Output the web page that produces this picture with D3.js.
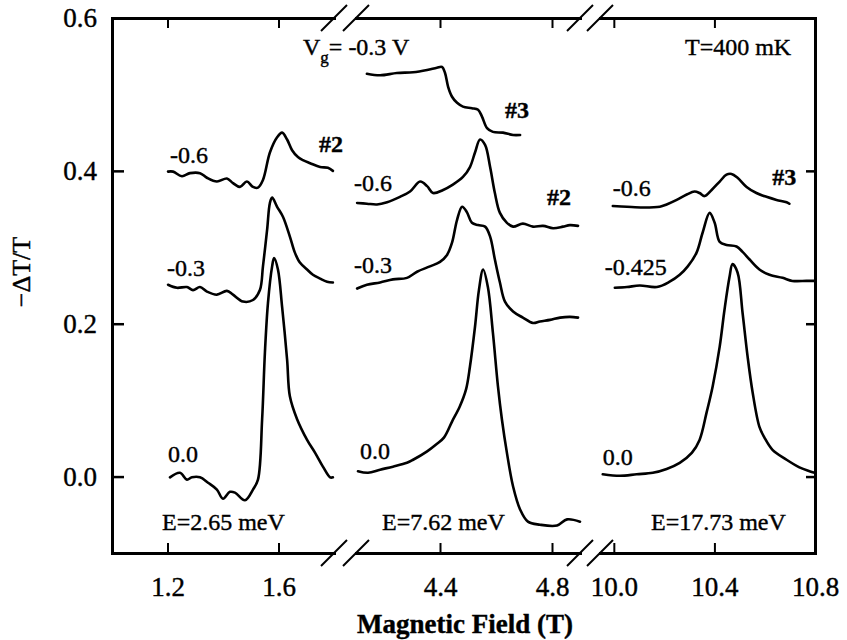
<!DOCTYPE html>
<html>
<head>
<meta charset="utf-8">
<script src="https://cdn.jsdelivr.net/npm/d3@7"></script>
<style>
  body { margin: 0; background: #fff; }
  svg { display: block; }
  text { font-family: "Liberation Serif", "Times New Roman", serif; fill: #000; stroke: #000; stroke-width: 0.4px; }
</style>
</head>
<body>
<svg id="chart" width="847" height="640"></svg>
<script>
// ---- axis data ----
const fieldDomains = [[1.0, 1.8], [4.1, 4.9], [9.945, 10.8]];
const fieldTicks = [[1.2, 1.6], [4.4, 4.8], [10.0, 10.4, 10.8]];
const signalTicks = [0.0, 0.2, 0.4, 0.6];
const signalDomain = [-0.1, 0.6];

// ---- E = 2.65 meV (low field window) ----
const b1_v00 = [1.209,1.245,1.270,1.288,1.317,1.346,1.378,1.400,1.425,1.443,1.479,1.508,1.526,1.541,1.551,1.562,1.577,1.584,1.598,1.613,1.631,1.641,1.667,1.703,1.732,1.760,1.786,1.796];
const s1_v00 = [-0.001,0.005,-0.004,-0.001,-0.001,-0.008,-0.017,-0.029,-0.020,-0.021,-0.031,-0.017,-0.004,0.075,0.162,0.227,0.275,0.286,0.271,0.222,0.153,0.105,0.075,0.048,0.031,0.013,-0.001,-0.001];

const b1_v03 = [1.202,1.234,1.270,1.292,1.317,1.342,1.378,1.414,1.436,1.472,1.508,1.533,1.544,1.559,1.569,1.577,1.595,1.616,1.641,1.659,1.677,1.703,1.724,1.750,1.775,1.796];
const s1_v03 = [0.251,0.247,0.248,0.244,0.248,0.242,0.238,0.243,0.238,0.229,0.231,0.244,0.275,0.323,0.358,0.365,0.353,0.340,0.314,0.293,0.280,0.271,0.264,0.259,0.255,0.254];

const b1_v06 = [1.202,1.220,1.252,1.281,1.317,1.342,1.378,1.414,1.436,1.461,1.486,1.508,1.526,1.544,1.569,1.595,1.613,1.631,1.649,1.670,1.688,1.714,1.750,1.778,1.796];
const s1_v06 = [0.399,0.399,0.393,0.397,0.397,0.391,0.386,0.390,0.384,0.379,0.386,0.379,0.378,0.388,0.424,0.444,0.450,0.441,0.427,0.418,0.414,0.410,0.405,0.404,0.400];

// ---- E = 7.62 meV (middle window) ----
const b2_v00 = [4.107,4.143,4.186,4.232,4.282,4.304,4.354,4.386,4.414,4.443,4.471,4.493,4.507,4.525,4.539,4.554,4.571,4.589,4.607,4.621,4.639,4.661,4.686,4.714,4.757,4.818,4.854,4.900];
const s2_v00 = [0.007,0.005,0.009,0.013,0.018,0.022,0.033,0.042,0.051,0.072,0.092,0.114,0.144,0.196,0.244,0.271,0.248,0.188,0.118,0.075,0.031,-0.013,-0.043,-0.059,-0.063,-0.064,-0.056,-0.059];

const b2_v03 = [4.104,4.139,4.186,4.232,4.282,4.318,4.364,4.400,4.425,4.443,4.461,4.479,4.496,4.514,4.536,4.561,4.579,4.596,4.614,4.632,4.661,4.696,4.732,4.757,4.793,4.829,4.864,4.893];
const s2_v03 = [0.246,0.251,0.254,0.258,0.260,0.268,0.275,0.281,0.290,0.306,0.336,0.353,0.346,0.332,0.329,0.327,0.314,0.284,0.254,0.229,0.216,0.208,0.201,0.203,0.205,0.208,0.209,0.208];

const b2_v06 = [4.104,4.139,4.175,4.211,4.257,4.293,4.329,4.354,4.375,4.411,4.446,4.482,4.507,4.525,4.543,4.561,4.579,4.596,4.614,4.639,4.661,4.696,4.732,4.768,4.804,4.839,4.864,4.893];
const s2_v06 = [0.358,0.357,0.356,0.359,0.366,0.373,0.386,0.380,0.371,0.375,0.382,0.392,0.405,0.424,0.441,0.434,0.405,0.371,0.345,0.332,0.327,0.331,0.327,0.328,0.325,0.327,0.329,0.328];

// sample #3 at Vg = -0.3 V
const b2_s3 = [4.139,4.186,4.246,4.304,4.354,4.389,4.407,4.418,4.429,4.443,4.461,4.482,4.514,4.536,4.550,4.568,4.589,4.625,4.661,4.686];
const s2_s3 = [0.527,0.525,0.528,0.529,0.532,0.535,0.536,0.528,0.510,0.497,0.489,0.484,0.482,0.480,0.471,0.456,0.451,0.450,0.447,0.447];

// ---- E = 17.73 meV (high field window) ----
const b3_v00 = [9.956,10.024,10.091,10.155,10.210,10.262,10.310,10.341,10.369,10.393,10.421,10.440,10.460,10.472,10.492,10.512,10.532,10.552,10.579,10.599,10.631,10.687,10.738,10.778,10.798];
const s3_v00 = [0.003,0.001,0.003,0.005,0.010,0.018,0.031,0.048,0.084,0.118,0.170,0.218,0.261,0.278,0.267,0.214,0.157,0.110,0.065,0.051,0.035,0.022,0.012,0.007,0.005];

const b3_v0425 = [10.004,10.052,10.103,10.171,10.222,10.262,10.294,10.329,10.353,10.381,10.401,10.421,10.448,10.488,10.512,10.540,10.579,10.619,10.671,10.710,10.766,10.798];
const s3_v0425 = [0.247,0.248,0.250,0.248,0.255,0.264,0.275,0.293,0.319,0.345,0.332,0.307,0.303,0.301,0.294,0.284,0.271,0.264,0.260,0.256,0.256,0.256];

const b3_v06 = [9.996,10.052,10.115,10.183,10.210,10.250,10.290,10.321,10.341,10.361,10.389,10.421,10.448,10.468,10.492,10.528,10.567,10.607,10.647,10.687,10.698];
const s3_v06 = [0.354,0.353,0.352,0.353,0.356,0.362,0.369,0.373,0.371,0.367,0.375,0.386,0.395,0.396,0.391,0.379,0.371,0.366,0.362,0.359,0.357];

// ---- curve labels ----
const gateLabels = ["0.0", "-0.3", "-0.6", "0.0", "-0.3", "-0.6", "", "0.0", "-0.425", "-0.6"];
const sampleTags = ["", "", "#2", "", "", "#2", "#3", "", "", "#3"];
const energyLabels = ["E=2.65 meV", "E=7.62 meV", "E=17.73 meV"];

const curves = [
  { panel: 0, b: b1_v00, s: s1_v00 },
  { panel: 0, b: b1_v03, s: s1_v03 },
  { panel: 0, b: b1_v06, s: s1_v06 },
  { panel: 1, b: b2_v00, s: s2_v00 },
  { panel: 1, b: b2_v03, s: s2_v03 },
  { panel: 1, b: b2_v06, s: s2_v06 },
  { panel: 1, b: b2_s3,  s: s2_s3 },
  { panel: 2, b: b3_v00, s: s3_v00 },
  { panel: 2, b: b3_v0425, s: s3_v0425 },
  { panel: 2, b: b3_v06, s: s3_v06 }
];

// ---- layout ----
const svg = d3.select("#chart");
const plotTop = 18, plotBottom = 553, plotLeft = 112, plotRight = 815;
const panelRanges = [[plotLeft, 334], [356, 580], [600, plotRight]];

// label placement relative to the first / last point of each trace (px)
const gateLabelOffsets = [[-2,-15],[-1,-9],[2,-9],[2,-12],[-3,-16],[-3,-12],[0,0],[0,-9],[-10,-13],[0,-10]];
const tagOffsets = [[0,0],[0,0],[-14,-19],[0,0],[0,0],[-31,-21],[-15,-17],[0,0],[0,0],[-17,-19]];

const y = d3.scaleLinear().domain(signalDomain).range([plotBottom, plotTop]);
const xs = fieldDomains.map((d, i) => d3.scaleLinear().domain(d).range(panelRanges[i]));

const frameW = 3;

// x axes: one broken segment per window, ticks pointing inward
xs.forEach((x, i) => {
  const gb = svg.append("g").attr("transform", `translate(0,${plotBottom})`)
    .call(d3.axisBottom(x).tickValues(fieldTicks[i]).tickFormat(d3.format(".1f"))
      .tickSizeInner(-10).tickSizeOuter(0).tickPadding(24));
  const gt = svg.append("g").attr("transform", `translate(0,${plotTop})`)
    .call(d3.axisTop(x).tickValues(fieldTicks[i]).tickFormat("")
      .tickSizeInner(-10).tickSizeOuter(0));
  [gb, gt].forEach(g => {
    g.select(".domain").attr("stroke-width", frameW).attr("stroke-linecap", "square");
    g.selectAll(".tick line").attr("stroke-width", 2);
  });
  gb.selectAll(".tick text").attr("font-size", 27).attr("font-family", "Liberation Serif");
});

// y axes
const gl = svg.append("g").attr("transform", `translate(${plotLeft},0)`)
  .call(d3.axisLeft(y).tickValues(signalTicks).tickFormat(d3.format(".1f"))
    .tickSizeInner(-12).tickSizeOuter(0).tickPadding(15));
gl.select(".domain").attr("stroke-width", frameW).attr("stroke-linecap", "square");
gl.selectAll(".tick line").attr("stroke-width", 2.5);
gl.selectAll(".tick text").attr("font-size", 27).attr("font-family", "Liberation Serif");

const gr = svg.append("g").attr("transform", `translate(${plotRight},0)`)
  .call(d3.axisRight(y).tickValues(signalTicks).tickFormat("")
    .tickSizeInner(-9).tickSizeOuter(0));
gr.select(".domain").attr("stroke-width", frameW).attr("stroke-linecap", "square");
gr.selectAll(".tick line").attr("stroke-width", 2.5);

// break marks at each end of the interrupted segments
const breakXs = [panelRanges[0][1], panelRanges[1][0], panelRanges[1][1], panelRanges[2][0]];
[plotTop, plotBottom].forEach(yy => {
  breakXs.forEach(bx => {
    svg.append("line")
      .attr("x1", bx - 13).attr("y1", yy + 13)
      .attr("x2", bx + 13).attr("y2", yy - 13)
      .attr("stroke", "#000").attr("stroke-width", 2);
  });
});

// traces
const line = d3.line().curve(d3.curveCatmullRom.alpha(0.5));
curves.forEach((c, i) => {
  const x = xs[c.panel];
  const pts = c.b.map((b, k) => [x(b), y(c.s[k])]);
  svg.append("path")
    .attr("d", line(pts))
    .attr("fill", "none")
    .attr("stroke", "#000")
    .attr("stroke-width", 2.6)
    .attr("stroke-linejoin", "round")
    .attr("stroke-linecap", "round");

  if (gateLabels[i]) {
    svg.append("text")
      .attr("x", pts[0][0] + gateLabelOffsets[i][0])
      .attr("y", pts[0][1] + gateLabelOffsets[i][1])
      .attr("font-size", 24)
      .text(gateLabels[i]);
  }
  if (sampleTags[i]) {
    const end = pts[pts.length - 1];
    svg.append("text")
      .attr("x", end[0] + tagOffsets[i][0])
      .attr("y", end[1] + tagOffsets[i][1])
      .attr("font-size", 24)
      .attr("font-weight", "bold")
      .text(sampleTags[i]);
  }
});

// window energies
const energyX = [162, 382, 651];
energyLabels.forEach((t, i) => {
  svg.append("text").attr("x", energyX[i]).attr("y", 530)
    .attr("font-size", 24).text(t);
});

// gate voltage and temperature
const vg = svg.append("text").attr("x", 303).attr("y", 55).attr("font-size", 24);
vg.append("tspan").text("V");
vg.append("tspan").attr("dy", 8).attr("font-size", 17).text("g");
vg.append("tspan").attr("dy", -8).text("= -0.3 V");

svg.append("text").attr("x", 685).attr("y", 55).attr("font-size", 24).text("T=400 mK");

// axis titles
svg.append("text")
  .attr("x", 465).attr("y", 633)
  .attr("text-anchor", "middle")
  .attr("font-size", 27).attr("font-weight", "bold")
  .text("Magnetic Field (T)");

svg.append("text")
  .attr("transform", "translate(30,272) rotate(-90)")
  .attr("text-anchor", "middle")
  .attr("font-size", 26)
  .text("\u2212\u0394T/T");
</script>
</body>
</html>
